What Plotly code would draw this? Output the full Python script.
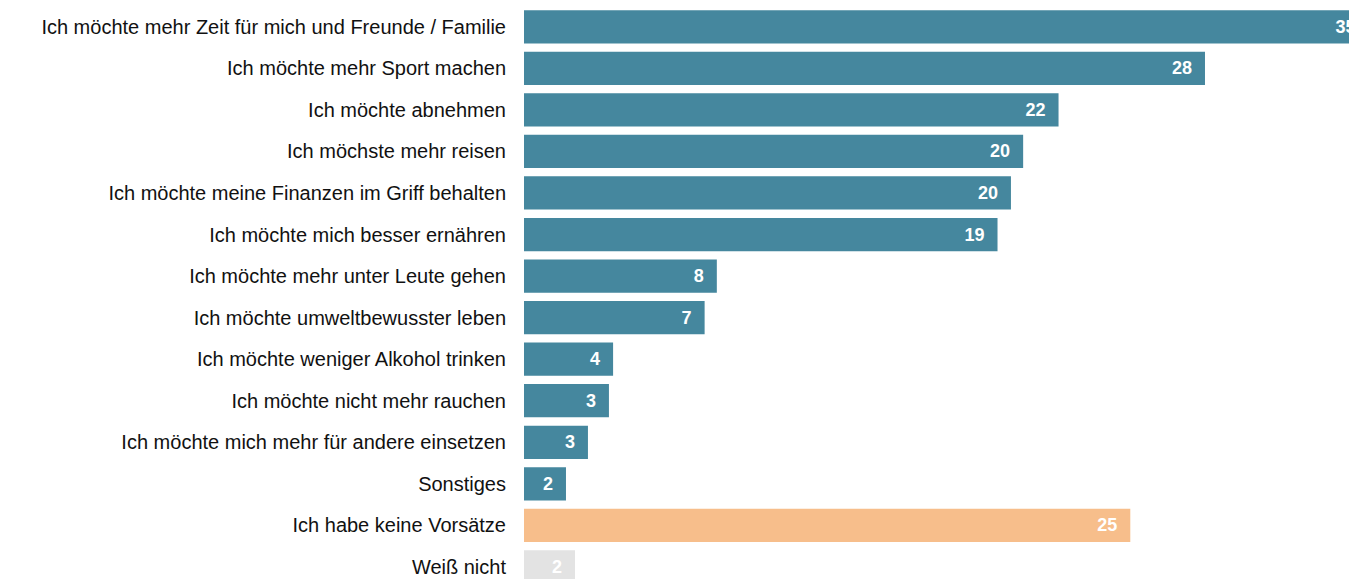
import plotly.graph_objects as go

# Survey answers: New Year's resolutions (percent of respondents)
categories = [
    "Ich möchte mehr Zeit für mich und Freunde / Familie",
    "Ich möchte mehr Sport machen",
    "Ich möchte abnehmen",
    "Ich möchste mehr reisen",
    "Ich möchte meine Finanzen im Griff behalten",
    "Ich möchte mich besser ernähren",
    "Ich möchte mehr unter Leute gehen",
    "Ich möchte umweltbewusster leben",
    "Ich möchte weniger Alkohol trinken",
    "Ich möchte nicht mehr rauchen",
    "Ich möchte mich mehr für andere einsetzen",
    "Sonstiges",
    "Ich habe keine Vorsätze",
    "Weiß nicht",
]
values = [34.6, 27.9, 21.9, 20.45, 19.95, 19.4, 7.9, 7.4, 3.65, 3.48, 2.62, 1.72, 24.84, 2.09]
groups = ["resolution"] * 12 + ["none", "unknown"]

group_colors = {"resolution": "#45879e", "none": "#f7be8b", "unknown": "#e3e3e3"}
colors = [group_colors[g] for g in groups]

fig = go.Figure(
    go.Bar(
        x=values,
        y=categories,
        orientation="h",
        marker=dict(color=colors, line=dict(width=0)),
        texttemplate="<b>%{x:.0f}</b>\u00a0\u00a0",
        textposition="inside",
        insidetextanchor="end",
        insidetextfont=dict(family="Liberation Sans, Arial, sans-serif", size=18, color="white"),
        constraintext="none",
        cliponaxis=True,
        hoverinfo="skip",
    )
)

fig.update_layout(
    width=1349,
    height=579,
    margin=dict(l=524, r=0, t=6, b=0, autoexpand=False),
    paper_bgcolor="white",
    plot_bgcolor="white",
    bargap=0.2,
    showlegend=False,
    font=dict(family="Liberation Sans, Arial, sans-serif", size=20, color="#111111"),
)
fig.update_xaxes(range=[0, 33.8], visible=False, showgrid=False, zeroline=False)
fig.update_yaxes(
    categoryorder="array",
    categoryarray=categories,
    range=[13.29, -0.5],
    showgrid=False,
    zeroline=False,
    showline=False,
    ticks="",
    ticklabelstandoff=17,
    automargin=False,
)

fig.write_html("out.html")
